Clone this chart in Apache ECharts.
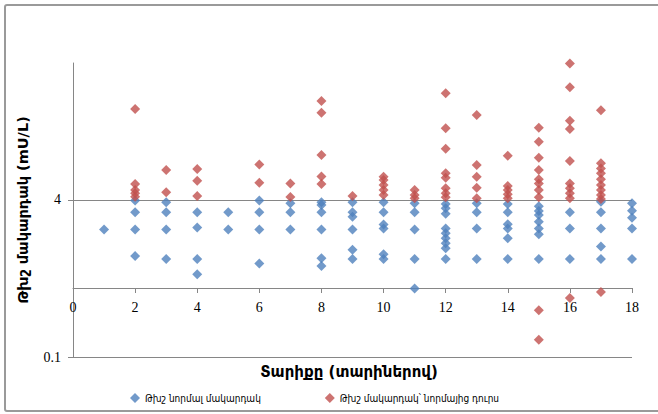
<!DOCTYPE html>
<html>
<head>
<meta charset="utf-8">
<script src="https://cdn.jsdelivr.net/npm/echarts@6/dist/echarts.min.js"></script>
<style>
html,body{margin:0;padding:0;background:#fff;}
#frame{position:absolute;left:4px;top:4px;width:720px;height:408px;border:2px solid #9a9a9a;border-radius:3px;box-sizing:border-box;}
#chart{position:absolute;left:0;top:0;width:658px;height:414px;}
</style>
</head>
<body>
<div id="frame"></div>
<div id="chart"></div>
<script>
// Age (years) and TSH level (mU/L)
const normalAges = [1,
  2,2,2,2,
  3,3,3,3,
  4,4,4,4,
  5,5,
  6,6,6,6,
  7,7,7,
  8,8,8,8,8,8,
  9,9,9,9,9,9,
  10,10,10,10,10,10,
  11,11,11,11,11,
  12,12,12,12,12,12,12,12,12,
  13,13,13,13,
  14,14,14,14,14,14,
  15,15,15,15,15,15,15,
  16,16,16,
  17,17,17,17,17,
  18,18,18,18,18];
const normalTSH = [2.0,
  3.95,3.0,2.0,1.07,
  3.8,3.0,2.0,1.0,
  3.0,2.1,1.0,0.7,
  3.0,2.0,
  3.95,3.0,2.0,0.9,
  3.7,3.0,2.0,
  3.8,3.55,3.0,2.0,1.02,0.85,
  3.8,3.0,2.7,2.0,1.24,1.0,
  3.8,3.0,2.25,2.05,1.12,1.0,
  3.7,3.0,2.0,1.0,0.5,
  3.64,3.3,2.9,2.05,1.83,1.63,1.45,1.29,1.0,
  3.7,3.0,2.05,1.0,
  3.64,3.0,2.26,2.05,1.63,1.0,
  3.45,3.09,2.81,2.4,2.05,1.79,1.0,
  3.0,2.05,1.0,
  3.84,3.0,2.05,1.34,1.0,
  3.7,3.1,2.64,2.05,1.0];

const abnormalAges = [
  2,2,2,2,2,
  3,3,
  4,4,4,
  6,6,
  7,7,
  8,8,8,8,8,
  9,
  10,10,10,10,10,
  11,11,11,
  12,12,12,12,12,12,12,12,
  13,13,13,13,13,
  14,14,14,14,14,
  15,15,15,15,15,15,15,15,15,15,
  16,16,16,16,16,16,16,16,16,16,
  17,17,17,17,17,17,17,17,17,17];
const abnormalTSH = [
  34,5.82,5.06,4.68,4.32,
  8.1,4.8,
  8.3,6.3,4.4,
  9.2,6.0,
  5.9,4.3,
  41,31,11.5,6.95,5.82,
  4.4,
  6.9,6.4,5.7,5.06,4.5,
  5.06,4.5,4.16,
  49,21.6,13.3,7.5,6.75,5.26,4.68,4.26,
  29.5,9.1,6.9,5.34,4.16,
  11.3,5.56,5.06,4.57,4.16,
  21.9,15.7,10.8,8.1,6.5,5.9,5.06,4.26,0.3,0.15,
  99,56.5,25.8,21.2,10,5.9,5.26,4.68,4.16,0.4,
  33,9.5,8.4,7.5,6.5,5.7,5.06,4.5,4.1,0.46];

const yTickValues = [0.1, 4];
const xTitle = 'Տարիքը (տարիներով)';
const yTitle = 'Թխշ մակարդակ (mU/L)';
const seriesNames = ['Թխշ նորմալ մակարդակ', 'Թխշ մակարդակ՝ նորմայից դուրս'];

const zip = (a, b) => a.map((v, i) => [v, b[i]]);

const chart = echarts.init(document.getElementById('chart'), null, {renderer: 'svg'});
const serif = '"Liberation Serif", "DejaVu Serif", serif';
const arm = '"DejaVu Sans", "Noto Sans", sans-serif';
const armNarrow = '"DejaVu Sans Condensed", "DejaVu Sans", sans-serif';
chart.setOption({
  animation: false,
  grid: {left: 73, right: 26, top: 63, bottom: 57},
  graphic: [{
    type: 'text', x: 349, y: 372,
    style: {text: xTitle, textAlign: 'center', textVerticalAlign: 'middle',
      fontFamily: arm, fontWeight: 'bold', fontSize: 15, fill: '#000'}
  }],
  xAxis: {
    type: 'value', min: 0, max: 18, interval: 2,
    offset: -69,
    axisLine: {show: true, lineStyle: {color: '#868686', width: 1}},
    axisTick: {show: true, length: 5, lineStyle: {color: '#868686'}},
    axisLabel: {color: '#000', fontFamily: serif, fontSize: 14, margin: 12},
    splitLine: {show: false}
  },
  yAxis: {
    type: 'log', logBase: 40, min: 0.1, max: 100,
    axisLine: {show: true, lineStyle: {color: '#868686', width: 1}},
    axisTick: {show: true, length: 5, lineStyle: {color: '#868686'}, customValues: yTickValues},
    axisLabel: {color: '#000', fontFamily: serif, fontSize: 14, margin: 12, customValues: yTickValues,
      formatter: v => String(+(+v).toPrecision(3))},
    splitLine: {show: true, lineStyle: {color: '#868686', width: 1}},
    name: yTitle, nameLocation: 'middle', nameGap: 43, nameRotate: 90,
    nameTextStyle: {fontFamily: arm, fontWeight: 'bold', fontSize: 14.5, color: '#000'}
  },
  legend: {
    bottom: 6, left: 125, itemGap: 64,
    icon: 'diamond', itemWidth: 10, itemHeight: 10,
    textStyle: {fontFamily: armNarrow, fontSize: 10, color: '#000'},
    data: seriesNames
  },
  series: [
    {name: seriesNames[0], type: 'scatter', symbol: 'diamond', symbolSize: 10,
     itemStyle: {color: '#4F81BD'}, data: zip(normalAges, normalTSH)},
    {name: seriesNames[1], type: 'scatter', symbol: 'diamond', symbolSize: 10,
     itemStyle: {color: '#C0504D'}, data: zip(abnormalAges, abnormalTSH)}
  ]
});
</script>
</body>
</html>
